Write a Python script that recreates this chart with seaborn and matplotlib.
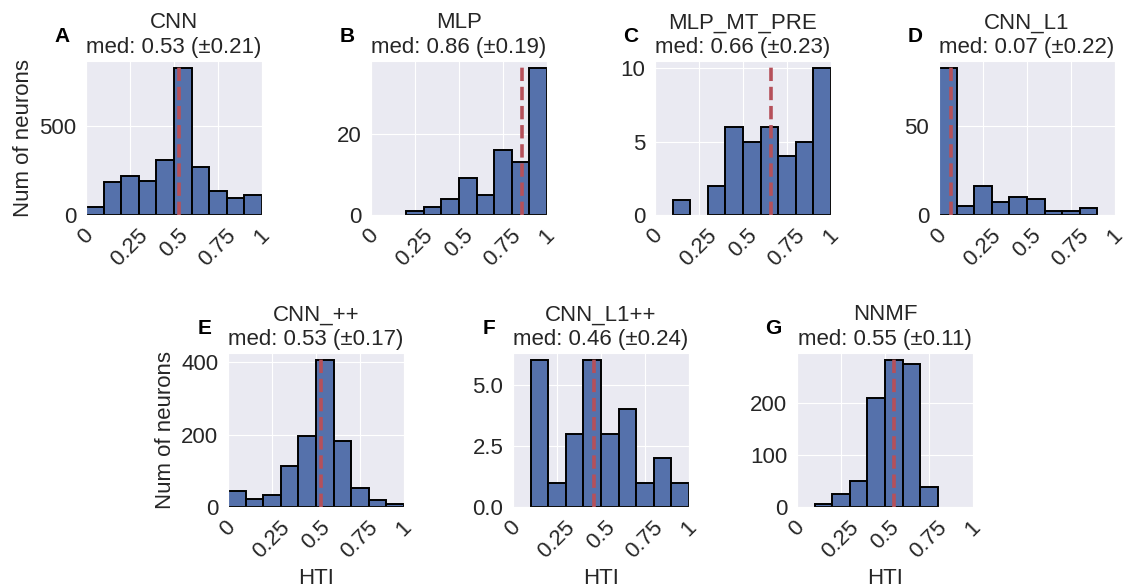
import numpy as np
import pandas as pd
import matplotlib
matplotlib.use("Agg")
import matplotlib.pyplot as plt
import seaborn as sns

# ---- data ----
models = ["CNN", "MLP", "MLP_MT_PRE", "CNN_L1", "CNN_++", "CNN_L1++", "NNMF"]
letters = ["A", "B", "C", "D", "E", "F", "G"]
medians = [0.53, 0.86, 0.66, 0.07, 0.53, 0.46, 0.55]
spreads = [0.21, 0.19, 0.23, 0.22, 0.17, 0.24, 0.11]
bin_edges = [0.0, 0.1, 0.2, 0.3, 0.4, 0.5, 0.6, 0.7, 0.8, 0.9, 1.0]
counts_cnn = [43, 185, 218, 190, 306, 821, 267, 136, 93, 114]
counts_mlp = [0, 0, 1, 2, 4, 9, 5, 16, 13, 36]
counts_mlp_mt_pre = [0, 1, 0, 2, 6, 5, 6, 4, 5, 10]
counts_cnn_l1 = [82, 5, 16, 7, 10, 9, 2, 2, 4, 0]
counts_cnn_pp = [44, 22, 34, 112, 197, 405, 182, 52, 19, 7]
counts_cnn_l1_pp = [0, 6, 1, 3, 6, 3, 4, 1, 2, 1]
counts_nnmf = [0, 6, 26, 51, 210, 283, 275, 39, 0, 0]
xtick_values = [0, 0.25, 0.5, 0.75, 1]
xtick_labels = ["0", "0.25", "0.5", "0.75", "1"]

all_counts = [counts_cnn, counts_mlp, counts_mlp_mt_pre, counts_cnn_l1,
              counts_cnn_pp, counts_cnn_l1_pp, counts_nnmf]

sns.set_style("darkgrid")
plt.rcParams["font.family"] = ["Liberation Sans", "DejaVu Sans"]

W, H = 1125, 587
fig = plt.figure(figsize=(W / 100, H / 100), dpi=100)

# axes positions in pixels (left, top)
ax_w, ax_h = 176, 154
pos_px = [(86, 61), (371, 61), (655, 61), (939, 61),
          (228, 353), (513, 353), (797, 353)]

bar_color = "#5571AB"
line_color = "#B5505A"
fs = 16

centers = [(bin_edges[i] + bin_edges[i + 1]) / 2 for i in range(len(bin_edges) - 1)]

for i, (name, letter, med, sd, counts) in enumerate(
        zip(models, letters, medians, spreads, all_counts)):
    lx, ty = pos_px[i]
    ax = fig.add_axes([lx / W, (H - ty - ax_h) / H, ax_w / W, ax_h / H])
    df = pd.DataFrame({"hti": centers, "n": counts})
    sns.histplot(data=df, x="hti", weights="n", bins=bin_edges, ax=ax,
                 color=bar_color, alpha=1.0, edgecolor="black", linewidth=1.4)
    for p in ax.patches:
        if p.get_height() == 0:
            p.set_visible(False)
    ax.axvline(med, color=line_color, ls="--", lw=2.6)
    ax.set_xlim(0, 1)
    ax.set_xticks(xtick_values)
    ax.set_xticklabels(xtick_labels, rotation=45, fontsize=fs)
    ax.tick_params(axis="y", labelsize=fs)
    ax.set_title(f"{name}\nmed: {med:.2f} (\u00b1{sd:.2f})", fontsize=fs,
                 linespacing=1.2)
    ax.text(-0.136, 1.16, letter, transform=ax.transAxes, fontsize=15,
            fontweight="bold", color="black", ha="center", va="center")
    if i in (0, 4):
        ax.set_ylabel("Num of neurons", fontsize=fs)
    else:
        ax.set_ylabel("")
    if i >= 4:
        ax.set_xlabel("HTI", fontsize=fs)
    else:
        ax.set_xlabel("")

fig.savefig("out.png", dpi=100)
